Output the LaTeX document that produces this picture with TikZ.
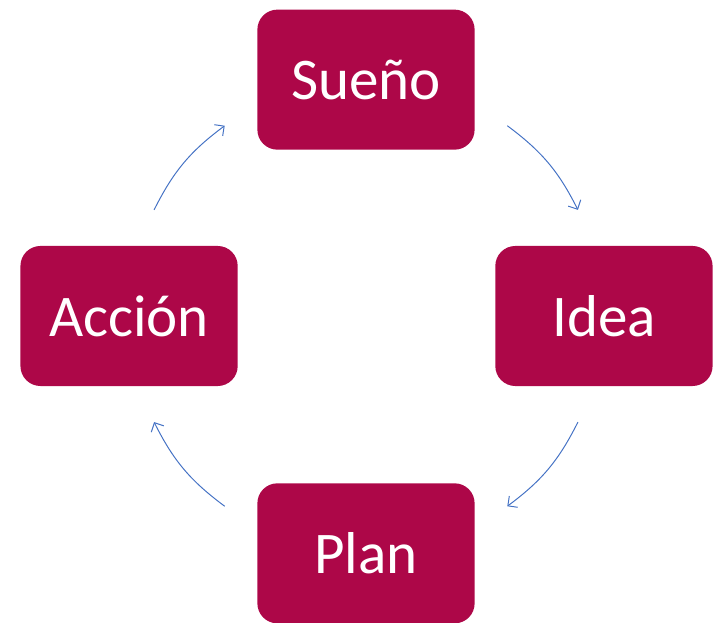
\documentclass[tikz,border=0pt]{standalone}
\usepackage{fontspec}
\setmainfont{Carlito}
\usetikzlibrary{positioning}
\usetikzlibrary{calc}
\usetikzlibrary{arrows.meta}
\definecolor{stagered}{RGB}{173,7,72}
\definecolor{cycleblue}{RGB}{68,114,196}
\tikzset {
  % box of one stage of the cycle
  stage/.style = {
    fill = stagered,
    draw = none,
    rectangle,
    rounded corners = 0.5cm,
    minimum width = 5.43cm,
    minimum height = 3.5cm,
    text = white,
    font = \fontsize{42}{50}\selectfont
  },
  % arc between two stages
  cyc/.style = {
    draw = cycleblue,
    line width = 0.7pt,
    -{Straight Barb[length=5pt, width=10pt]}
  }
}

\begin{document}
\begin{tikzpicture}[x=0.025cm, y=0.025cm]
    \useasboundingbox (0,0) rectangle (717,623);
    \coordinate (c) at (366,307);
    \node[stage] (sueno) [above=4.15cm of c] {Sueño};
    \node[stage] (idea) [right=3.225cm of c] {Idea};
    \node[stage] (plan) [below=4.175cm of c] {Plan};
    \node[stage] (accion) [left=3.2cm of c] {Acción};

    % ends of the arcs, on a circle round the middle
    \coordinate (sueno-out) at ($(c)+(53.4:237)$);
    \coordinate (idea-in) at ($(c)+(26.6:237)$);
    \coordinate (idea-out) at ($(c)+(-26.6:237)$);
    \coordinate (plan-in) at ($(c)+(-53.4:237)$);
    \coordinate (plan-out) at ($(c)+(233.4:237)$);
    \coordinate (accion-in) at ($(c)+(206.6:237)$);
    \coordinate (accion-out) at ($(c)+(153.4:237)$);
    \coordinate (sueno-in) at ($(c)+(126.6:237)$);

    \draw[cyc] (sueno-out) to[bend left=13.4] (idea-in);
    \draw[cyc] (idea-out) to[bend left=13.4] (plan-in);
    \draw[cyc] (plan-out) to[bend left=13.4] (accion-in);
    \draw[cyc] (accion-out) to[bend left=13.4] (sueno-in);
\end{tikzpicture}
\end{document}
